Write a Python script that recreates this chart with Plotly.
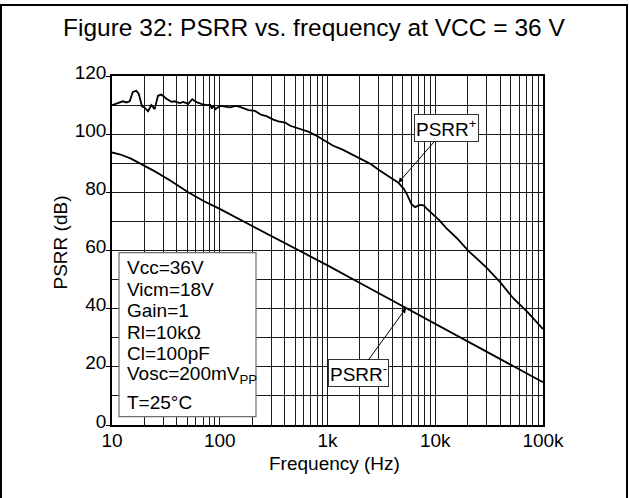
import numpy as np
import plotly.graph_objects as go

# ---------------- data ----------------
freq_plus = [10, 11.4, 12.6, 13.6, 14.6, 15.6, 16.8, 17.7, 19.0, 20.0, 21.6, 23.2, 24.9,
             26.7, 28.7, 32.0, 35.6, 38.2, 42.6, 45.8, 51, 55.6, 60.9, 70.5, 75.9, 81.5,
             84.5, 87.7, 91, 100, 111, 125, 140, 154, 185, 212, 244, 272, 314, 350, 405,
             451, 505, 581, 672, 777, 950, 1130, 1380, 1650, 2000, 2500, 3050, 3800, 4550,
             5120, 5450, 6000, 6500, 7200, 7800, 8300, 9500, 11000, 12600, 15800, 20400,
             29600, 39800, 53200, 71600, 100000]
psrr_plus = [110.0, 110.7, 111.3, 110.9, 111.3, 114.5, 114.9, 113.9, 109.5, 109.2, 107.9,
             110.0, 108.6, 113.2, 113.6, 112.2, 111.1, 111.3, 110.7, 111.1, 110.4, 112.0,
             111.0, 110.2, 110.0, 110.1, 108.8, 109.8, 108.6, 109.7, 109.4, 109.2, 109.7,
             109.4, 108.3, 108.0, 106.6, 106.2, 105.0, 104.4, 104.0, 102.9, 102.3, 101.6,
             100.8, 99.6, 97.7, 96.0, 94.7, 93.2, 91.5, 89.8, 87.5, 85.2, 83.3, 81.1, 79.4,
             76.0, 74.9, 75.7, 75.5, 74.5, 72.6, 70.3, 67.8, 64.3, 59.8, 54.3, 49.2, 43.5,
             38.9, 33.0]

freq_minus = [10, 12, 15, 18.2, 25, 35, 51, 70, 100, 200, 556, 1000, 2000, 5360, 10000,
              20000, 50000, 100000]
psrr_minus = [93.7, 93.0, 91.6, 90.0, 87.2, 84.0, 80.0, 77.1, 74.3, 68.4, 60.0, 54.9, 48.8,
              40.2, 34.8, 28.7, 20.7, 14.7]

x_major = [10, 100, 1000, 10000, 100000]
x_major_text = ["10", "100", "1k", "10k", "100k"]
x_minor = [m * d for d in [10, 100, 1000, 10000] for m in range(2, 10)]
y_major = [0, 20, 40, 60, 80, 100, 120]
y_minor = [10, 30, 50, 70, 90, 110]

title_text = "Figure 32: PSRR vs. frequency at VCC = 36 V"
x_title = "Frequency (Hz)"
y_title = "PSRR (dB)"
conditions = ["Vcc=36V", "Vicm=18V", "Gain=1", "Rl=10kΩ", "Cl=100pF",
              "Vosc=200mV<sub>PP</sub>", "T=25°C"]
label_plus = "PSRR<sup>+</sup>"
label_minus = "PSRR<sup>-</sup>"
idx_plus = freq_plus.index(4550)
idx_minus = freq_minus.index(5360)

# ---------------- figure ----------------
FONT = "Arial, 'Liberation Sans', sans-serif"
W, H = 629, 498
L, R, T, B = 112, 543, 76, 425
pw, ph = R - L, B - T


def px(xp):
    return (xp - L) / pw


def py(yp):
    return (B - yp) / ph


fig = go.Figure()
fig.add_trace(go.Scatter(x=freq_plus, y=psrr_plus, mode="lines",
                         line=dict(color="black", width=1.8), showlegend=False))
fig.add_trace(go.Scatter(x=freq_minus, y=psrr_minus, mode="lines",
                         line=dict(color="black", width=1.8), showlegend=False))

grid_c = "#1a1a1a"
fig.update_xaxes(type="log", range=[1, 5], tickmode="array", tickvals=x_major,
                 ticktext=x_major_text, ticks="", showgrid=True, gridcolor=grid_c,
                 gridwidth=1.2, showline=True, mirror=True, linecolor="black", linewidth=1.5,
                 tickfont=dict(family=FONT, size=19, color="black"),
                 minor=dict(tickmode="array", tickvals=x_minor, showgrid=True,
                            gridcolor=grid_c, gridwidth=1.2, ticks=""),
                 zeroline=False, ticklabelstandoff=-3)
fig.update_yaxes(range=[0, 120], tickmode="array", tickvals=y_major, ticks="outside",
                 ticklen=4, tickcolor="black", tickwidth=1, showgrid=True, gridcolor=grid_c,
                 gridwidth=1.2, showline=True, mirror=True, linecolor="black", linewidth=1.5,
                 tickfont=dict(family=FONT, size=19, color="black"),
                 minor=dict(tickmode="array", tickvals=y_minor, showgrid=True,
                            gridcolor=grid_c, gridwidth=1.2, ticks=""),
                 zeroline=False, ticklabelshift=-4, ticklabelstandoff=-4)

shapes = []
# outer frame
shapes.append(dict(type="rect", xref="paper", yref="paper",
                   x0=px(1), x1=px(627), y0=py(501), y1=py(5),
                   line=dict(color="black", width=2), fillcolor="rgba(0,0,0,0)", layer="above"))
# conditions box
shapes.append(dict(type="rect", xref="paper", yref="paper",
                   x0=px(119), x1=px(256), y0=py(416.7), y1=py(252.7),
                   line=dict(color="#6e6e6e", width=1.2), fillcolor="white", layer="above"))

annotations = []
annotations.append(dict(text=title_text, xref="paper", yref="paper", x=px(313.5), y=py(27),
                        xanchor="center", yanchor="middle", showarrow=False,
                        font=dict(family=FONT, size=24.5, color="black")))
annotations.append(dict(text=x_title, xref="paper", yref="paper", x=px(334), y=py(463),
                        xanchor="center", yanchor="middle", showarrow=False,
                        font=dict(family=FONT, size=19, color="black")))
annotations.append(dict(text=y_title, xref="paper", yref="paper", x=px(60), y=py(242.5),
                        xanchor="center", yanchor="middle", showarrow=False, textangle=-90,
                        font=dict(family=FONT, size=19, color="black")))

cond_y = [267.3, 289.5, 310.7, 332, 353.3, 375, 402.3]
for txt, yy in zip(conditions, cond_y):
    annotations.append(dict(text=txt, xref="paper", yref="paper", x=px(125), y=py(yy),
                            xanchor="left", yanchor="middle", showarrow=False,
                            font=dict(family=FONT, size=19, color="black")))

annotations.append(dict(text=label_plus, x=np.log10(freq_plus[idx_plus]), y=psrr_plus[idx_plus],
                        xref="x", yref="y", ax=48, ay=-55, axref="pixel", ayref="pixel",
                        showarrow=True, arrowhead=2, arrowsize=1.0, arrowwidth=1,
                        arrowcolor="black", bgcolor="white", bordercolor="#333",
                        borderwidth=1, borderpad=1,
                        font=dict(family=FONT, size=19, color="black")))
annotations.append(dict(text=label_minus, x=np.log10(freq_minus[idx_minus]), y=psrr_minus[idx_minus],
                        xref="x", yref="y", ax=-47.5, ay=65.4, axref="pixel", ayref="pixel",
                        showarrow=True, arrowhead=2, arrowsize=1.0, arrowwidth=1,
                        arrowcolor="black", bgcolor="white", bordercolor="#333",
                        borderwidth=1, borderpad=1,
                        font=dict(family=FONT, size=19, color="black")))

fig.update_layout(width=W, height=H, margin=dict(l=L, r=W - R, t=T, b=H - B),
                  paper_bgcolor="white", plot_bgcolor="white",
                  shapes=shapes, annotations=annotations, showlegend=False,
                  font=dict(family=FONT, color="black"))

fig.write_html("out.html", config={"displayModeBar": False},
               post_script="document.body.style.margin='0px';")
